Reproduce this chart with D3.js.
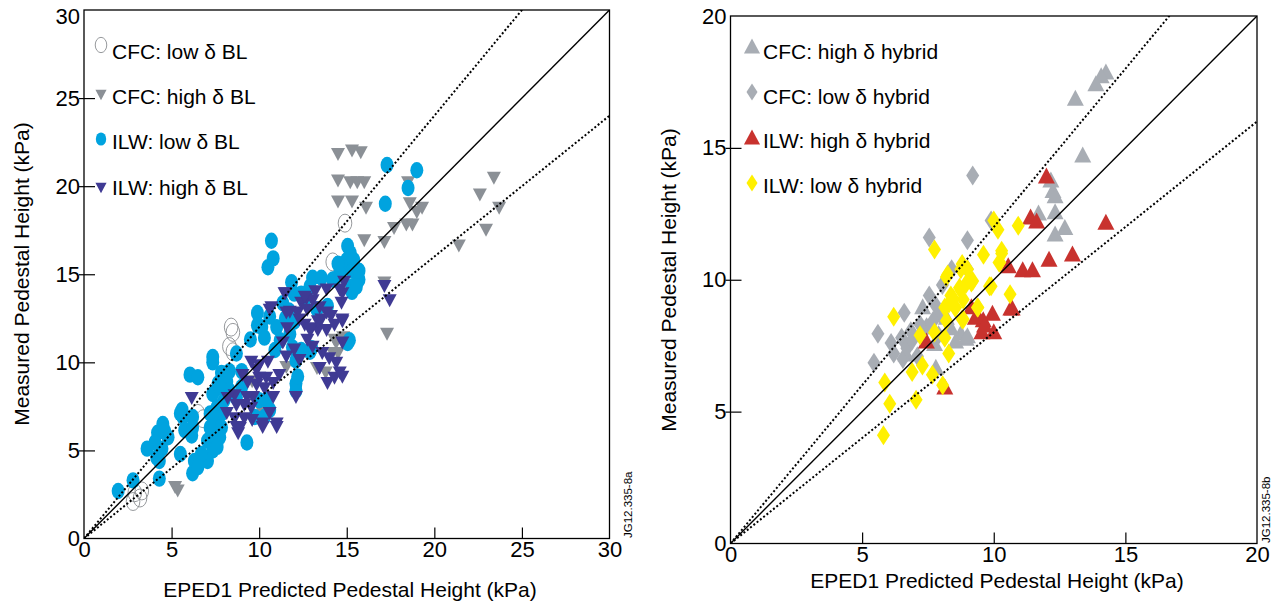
<!DOCTYPE html>
<html>
<head>
<meta charset="utf-8">
<script src="https://cdn.jsdelivr.net/npm/d3@7"></script>
<style>
  body { margin: 0; background: #fff; }
  svg text { font-family: "Liberation Sans", Arial, Helvetica, sans-serif; fill: #000; }
</style>
</head>
<body>
<svg id="chart" width="1282" height="608"></svg>
<script>
// ---- Left panel data: [EPED1 predicted, measured] (kPa) ----
const cfcLowBL = [[2.9,2.6],[3.3,2.7],[2.8,2.1],[3.2,2.3],[6.5,7.1],[6.8,6.8],[8.4,12.0],[8.5,11.7],
  [8.3,10.9],[8.5,10.6],[14.2,15.7],[14.9,17.9],[15.0,14.8]];

const cfcHighBL = [[14.5,21.8],[15.3,22.0],[15.8,21.9],[14.5,20.3],[15.2,20.2],[15.6,20.2],[16.0,20.2],
  [14.5,19.1],[15.3,19.1],[16.1,18.75],[16.0,16.9],[17.15,16.8],[18.5,20.2],[18.6,19.0],[19.3,18.75],
  [19.0,18.5],[18.4,17.8],[18.75,17.8],[17.7,17.6],[22.6,19.5],[23.4,20.45],[23.7,18.75],[22.95,17.5],
  [21.4,16.6],[17.15,14.5],[17.3,11.6],[14.8,11.4],[14.3,11.25],[14.5,10.5],[14.4,11.1],[14.2,10.5],
  [13.3,9.65],[13.8,9.4],[10.7,8.0],[10.3,7.0],[9.6,8.9],[5.2,2.9],[5.35,2.7],[11.55,9.7],[10.2,7.1],
  [13.45,9.65]];

const ilwLowBL = [[17.3,21.2],[19.0,20.9],[18.5,19.9],[17.2,19.0],[10.7,16.9],[10.8,15.9],[10.5,15.4],
  [15.05,16.6],[15.2,16.2],[15.0,15.8],[14.8,15.4],[15.2,15.4],[14.6,15.05],[15.4,15.8],[15.3,15.2],
  [15.6,15.05],[15.7,14.7],[15.3,14.3],[15.3,14.0],[13.05,14.8],[13.55,14.8],[12.9,14.3],[14.3,14.7],
  [12.4,13.9],[12.7,13.7],[15.15,11.25],[13.0,10.8],[14.5,15.6],[15.55,14.3],[14.2,14.7],[11.85,14.55],
  [12.0,13.9],[9.9,12.8],[10.15,12.0],[10.3,11.4],[11.0,12.0],[11.2,11.25],[10.9,10.7],[11.75,11.6],
  [11.9,10.85],[12.1,10.1],[12.4,10.7],[11.7,12.95],[11.35,13.35],[10.6,12.6],[7.35,10.3],[6.05,9.3],
  [6.5,9.15],[7.85,9.4],[8.15,8.9],[7.65,8.8],[7.35,8.2],[8.0,7.85],[7.6,7.45],[7.2,7.1],[7.85,7.1],
  [8.3,8.4],[7.45,6.5],[7.85,6.3],[7.35,5.75],[9.3,5.45],[10.3,6.9],[12.1,8.8],[12.1,8.4],[15.05,11.1],
  [9.75,6.9],[10.0,7.85],[10.6,7.3],[5.5,7.1],[6.2,6.9],[5.75,6.15],[7.35,10.0],[7.75,8.6],[7.35,7.1],
  [7.2,6.3],[7.05,5.55],[7.35,5.0],[7.05,4.4],[6.7,4.8],[6.3,4.4],[6.2,3.7],[6.5,4.05],[7.75,5.75],
  [7.6,5.2],[5.5,4.8],[5.65,6.9],[5.6,7.3],[6.15,5.85],[6.2,6.3],[4.5,6.5],[4.2,6.0],[4.6,6.1],[4.8,5.75],
  [4.05,5.45],[4.45,5.1],[3.6,5.1],[4.15,4.6],[4.3,4.4],[4.3,3.4],[2.8,3.3],[1.95,2.7],[9.9,12.1],
  [12.9,10.6],[15.7,15.2],[12.2,9.2],[10.4,7.85],[8.7,8.0],[9.0,8.6],[11.5,12.5],[12.0,12.3],[13.3,13.0],
  [13.9,13.2],[8.3,9.5],[8.7,10.5],[9.5,11.3],[9.0,9.5]];

const ilwHighBL = [[11.45,13.9],[10.6,12.95],[11.75,12.85],[12.2,12.8],[12.7,13.6],[13.05,13.5],[12.4,13.35],
  [12.75,12.95],[13.45,13.1],[13.85,12.8],[14.1,12.6],[13.55,12.4],[12.6,12.1],[13.0,11.9],[13.35,11.8],
  [13.85,11.8],[14.3,12.1],[14.75,12.3],[14.7,13.35],[14.75,13.9],[14.85,14.55],[14.6,14.1],[11.6,11.9],
  [12.75,11.25],[13.05,10.85],[11.35,11.1],[11.55,10.3],[12.0,10.7],[12.3,10.1],[12.1,8.0],[13.45,9.65],
  [13.9,8.8],[14.3,9.1],[14.6,9.4],[14.4,9.95],[9.55,10.0],[10.0,9.8],[10.5,10.0],[9.05,9.25],[9.35,8.85],
  [10.0,9.1],[10.4,9.1],[9.85,8.7],[10.3,8.5],[10.8,8.8],[9.65,8.0],[9.3,8.0],[8.6,8.1],[8.2,7.95],
  [8.7,7.55],[9.15,7.55],[9.55,7.4],[8.15,7.1],[8.6,6.8],[9.15,6.8],[9.6,6.7],[8.9,6.25],[8.8,5.95],
  [10.6,7.1],[11.0,6.5],[10.2,6.5],[6.15,7.95],[10.8,8.0],[11.15,9.25],[14.75,12.4],[17.15,14.3],
  [17.45,13.5],[12.6,13.7],[14.75,11.1],[13.35,12.3],[11.55,12.8],[12.9,11.8],[14.75,9.15],[11.0,6.3],
  [10.2,6.3],[8.7,6.3],[9.85,9.55],[10.7,13.1],[11.5,13.9],[13.85,14.1],[13.2,14.0],[12.3,12.4],
  [14.0,10.2],[13.6,10.5]];

// ---- Right panel data ----
const cfcHighHybrid = [[14.26,17.9],[14.08,17.75],[13.88,17.45],[13.1,16.9],[13.38,14.75],[12.17,13.8],
  [12.25,13.4],[12.33,13.2],[11.7,12.55],[12.33,12.6],[12.7,12.0],[12.33,11.75],[8.75,8.0],[8.95,7.8],
  [8.55,7.7],[7.8,6.7],[7.75,7.6],[6.67,7.2],[9.0,7.9],[8.37,8.2],[7.3,9.0],[8.2,8.6]];

const cfcLowHybrid = [[9.2,13.95],[7.55,11.6],[9.0,11.5],[5.6,7.95],[5.45,6.85],[6.6,8.75],[6.1,7.6],
  [6.5,7.8],[6.2,7.2],[6.55,7.0],[6.7,7.4],[6.85,8.05],[7.55,9.4],[7.75,9.1],[7.95,8.7],[7.7,8.45],
  [7.45,8.2],[7.2,8.3],[8.05,9.8],[8.4,10.4],[9.0,10.4],[9.9,12.25],[6.9,7.7],[7.1,7.1],[7.9,7.9]];

const ilwHighHybrid = [[12.0,13.95],[11.4,12.4],[11.63,12.25],[14.26,12.2],[12.99,11.0],[12.1,10.8],
  [11.1,10.4],[11.47,10.4],[10.55,10.55],[10.7,8.95],[9.95,8.75],[9.6,8.5],[9.55,8.05],[10.0,8.05],
  [9.15,9.0],[9.3,8.6],[7.44,7.7],[8.14,5.95],[9.4,8.65],[9.65,8.3],[10.65,8.95]];

const ilwLowHybrid = [[5.81,4.1],[6.05,5.3],[5.86,6.1],[6.2,8.6],[7.05,5.45],[7.29,6.75],[6.9,6.5],
  [7.67,6.4],[8.06,6.0],[7.75,11.15],[8.29,7.2],[8.14,7.8],[7.75,8.0],[7.2,7.9],[8.2,10.1],[8.75,10.4],
  [9.0,10.4],[9.15,9.9],[8.75,9.6],[8.37,9.4],[8.14,8.95],[8.53,8.95],[8.84,9.25],[8.84,8.5],[9.38,8.95],
  [9.84,9.75],[9.61,10.95],[10.0,12.25],[10.16,11.9],[10.3,11.0],[10.23,10.65],[10.93,12.05],[10.62,9.45],
  [8.25,10.2],[8.8,10.6],[8.7,9.7],[8.45,9.3],[8.55,8.95],[8.8,8.5],[8.2,8.45],[8.3,9.1],[9.4,8.95],
  [9.9,9.75],[10.3,11.1],[10.2,10.65],[8.95,9.85],[9.2,9.95]];

// Axis ticks and reference line slopes
const leftTicks = [0, 5, 10, 15, 20, 25, 30];
const rightTicks = [0, 5, 10, 15, 20];
const refSlopes = [1.2, 1.0, 0.8];

const svg = d3.select('#chart');

// Marker shapes, centered on 0,0
function downTri(w, h) { return `M${-w/2},${-h/2}L${w/2},${-h/2}L0,${h/2}Z`; }
function upTri(w, h) { return `M${-w/2},${h/2}L${w/2},${h/2}L0,${-h/2}Z`; }
function diamond(w, h) { return `M0,${-h/2}L${w/2},0L0,${h/2}L${-w/2},0Z`; }

function drawMarker(g, m, x, y, legend) {
    const k = legend ? m.legendScale : 1;
    if (m.shape === 'ellipse') {
        g.append('ellipse')
            .attr('cx', x).attr('cy', y)
            .attr('rx', m.rx * k).attr('ry', m.ry * k)
            .attr('fill', m.fill).attr('stroke', m.stroke || 'none')
            .attr('stroke-width', m.stroke ? 0.9 : 0);
    } else {
        const f = m.shape === 'down' ? downTri : m.shape === 'up' ? upTri : diamond;
        g.append('path')
            .attr('d', f(m.w * k, m.h * k))
            .attr('transform', `translate(${x},${y})`)
            .attr('fill', m.fill);
    }
}

function panel(cfg) {
    const x = d3.scaleLinear().domain([0, cfg.max]).range(cfg.xr);
    const y = d3.scaleLinear().domain([0, cfg.max]).range(cfg.yr);
    const g = svg.append('g');

    // markers
    cfg.series.forEach(s => {
        const sg = g.append('g');
        s.data.forEach(d => drawMarker(sg, s, x(d[0]), y(d[1]), false));
    });

    // reference lines: y = x and +/-20%
    const clip = 'clip' + cfg.id;
    svg.append('clipPath').attr('id', clip).append('rect')
        .attr('x', cfg.xr[0]).attr('y', cfg.yr[1])
        .attr('width', cfg.xr[1] - cfg.xr[0]).attr('height', cfg.yr[0] - cfg.yr[1]);
    refSlopes.forEach(k => {
        g.append('line')
            .attr('clip-path', `url(#${clip})`)
            .attr('x1', x(0)).attr('y1', y(0))
            .attr('x2', x(cfg.max)).attr('y2', y(cfg.max * k))
            .attr('stroke', '#000')
            .attr('stroke-width', k === 1 ? 1.4 : 2)
            .attr('stroke-dasharray', k === 1 ? null : '2,2.2');
    });

    // frame
    g.append('rect')
        .attr('x', cfg.xr[0]).attr('y', cfg.yr[1])
        .attr('width', cfg.xr[1] - cfg.xr[0]).attr('height', cfg.yr[0] - cfg.yr[1])
        .attr('fill', 'none').attr('stroke', '#000').attr('stroke-width', 1.3);

    // axes
    const xa = g.append('g').attr('transform', `translate(0,${cfg.yr[0]})`)
        .call(d3.axisBottom(x).tickValues(cfg.ticks).tickSize(-11).tickPadding(3));
    const ya = g.append('g').attr('transform', `translate(${cfg.xr[0]},0)`)
        .call(d3.axisLeft(y).tickValues(cfg.ticks).tickSize(-11).tickPadding(4));
    [xa, ya].forEach(a => {
        a.select('.domain').remove();
        a.selectAll('text').attr('font-size', 22).attr('fill', '#000');
        a.selectAll('.tick line').attr('stroke', '#000').attr('stroke-width', 1.2)
            .filter(d => d === 0 || d === cfg.max).remove();
    });
    ya.selectAll('.tick line').attr('x1', -5);
    // top label sits a little below the frame corner
    ya.selectAll('.tick text').filter(d => d === cfg.max).attr('dy', cfg.topLabelDy);

    // axis titles
    g.append('text').attr('x', cfg.xTitle[0]).attr('y', cfg.xTitle[1])
        .attr('text-anchor', 'middle').attr('font-size', 21)
        .text('EPED1 Predicted Pedestal Height (kPa)');
    g.append('text')
        .attr('transform', `translate(${cfg.yTitle[0]},${cfg.yTitle[1]}) rotate(-90)`)
        .attr('text-anchor', 'middle').attr('font-size', 21)
        .text('Measured Pedestal Height (kPa)');

    // legend
    cfg.series.forEach((s, i) => {
        drawMarker(g, s, cfg.legendX, cfg.legendMarkY[i], true);
        g.append('text').attr('x', cfg.legendX + 11).attr('y', cfg.legendTextY[i])
            .attr('font-size', 21).text(s.label);
    });

    // figure id
    g.append('text')
        .attr('transform', `translate(${cfg.tag[0]},${cfg.tag[1]}) rotate(-90)`)
        .attr('font-size', 11.5).text(cfg.tagText);
}

panel({
    id: 'L', max: 30, ticks: leftTicks, topLabelDy: '0.62em',
    xr: [84, 609.5], yr: [538.5, 10],
    xTitle: [350, 597], yTitle: [29, 274],
    legendX: 101, legendMarkY: [45, 95, 139, 188], legendTextY: [59, 104, 149, 195],
    tag: [632, 538], tagText: 'JG12.335-8a',
    series: [
        { data: cfcLowBL, label: 'CFC: low \u03b4 BL', shape: 'ellipse', rx: 6.8, ry: 9, fill: 'none', stroke: '#8a8d91', legendScale: 0.85 },
        { data: cfcHighBL, label: 'CFC: high \u03b4 BL', shape: 'down', w: 14, h: 13, fill: '#8b9096', legendScale: 0.8 },
        { data: ilwLowBL, label: 'ILW: low \u03b4 BL', shape: 'ellipse', rx: 6.5, ry: 8.2, fill: '#00a3df', legendScale: 0.8 },
        { data: ilwHighBL, label: 'ILW: high \u03b4 BL', shape: 'down', w: 14, h: 13, fill: '#3f3a94', legendScale: 0.8 }
    ]
});

panel({
    id: 'R', max: 20, ticks: rightTicks, topLabelDy: '0.32em',
    xr: [730.5, 1257], yr: [543.5, 16],
    xTitle: [997, 588], yTitle: [676, 280],
    legendX: 752, legendMarkY: [46, 92, 137, 183], legendTextY: [59, 104, 148, 193],
    tag: [1270, 543], tagText: 'JG12.335-8b',
    series: [
        { data: cfcHighHybrid, label: 'CFC: high \u03b4 hybrid', shape: 'up', w: 17, h: 16, fill: '#a8adb4', legendScale: 0.95 },
        { data: cfcLowHybrid, label: 'CFC: low \u03b4 hybrid', shape: 'diamond', w: 13, h: 20, fill: '#a8adb4', legendScale: 0.85 },
        { data: ilwHighHybrid, label: 'ILW: high \u03b4 hybrid', shape: 'up', w: 17, h: 16, fill: '#c8322e', legendScale: 0.95 },
        { data: ilwLowHybrid, label: 'ILW: low \u03b4 hybrid', shape: 'diamond', w: 13, h: 20, fill: '#fff000', legendScale: 0.85 }
    ]
});
</script>
</body>
</html>
